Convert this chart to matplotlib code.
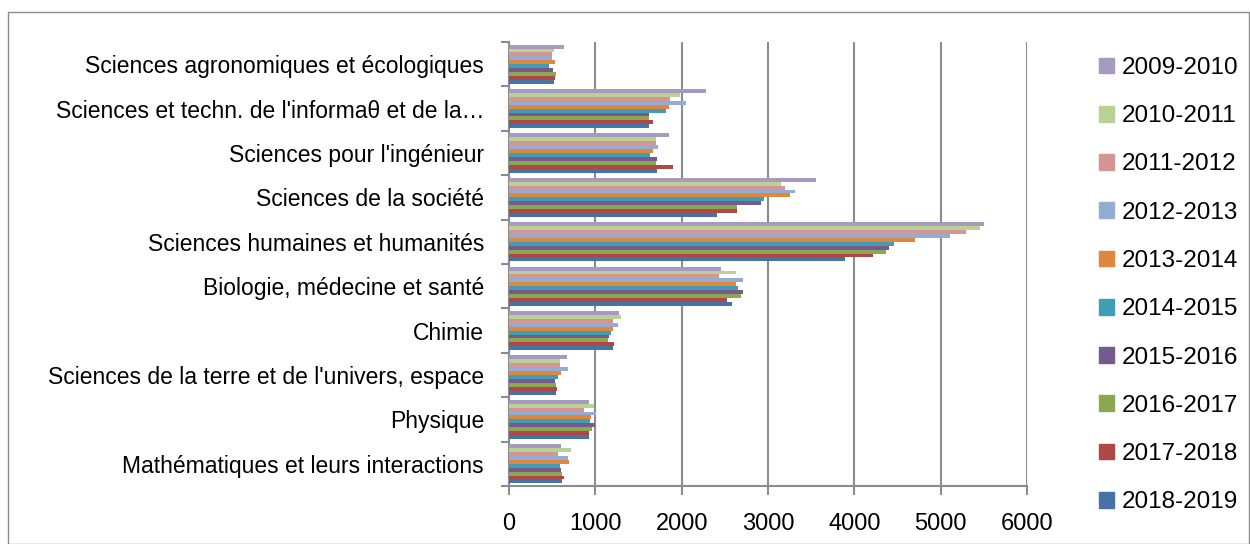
import numpy as np
import matplotlib
matplotlib.use("Agg")
import matplotlib.pyplot as plt
import matplotlib.patches as mpatches

# ---------------------------
# Data (categories listed bottom -> top)
# ---------------------------
categories = [
    "Mathématiques et leurs interactions",
    "Physique",
    "Sciences de la terre et de l'univers, espace",
    "Chimie",
    "Biologie, médecine et santé",
    "Sciences humaines et humanités",
    "Sciences de la société",
    "Sciences pour l'ingénieur",
    "Sciences et techn. de l'informaθ et de la…",
    "Sciences agronomiques et écologiques",
]

years = ["2009-2010", "2010-2011", "2011-2012", "2012-2013", "2013-2014",
         "2014-2015", "2015-2016", "2016-2017", "2017-2018", "2018-2019"]

v_2009 = [606, 927, 672, 1274, 2459, 5498, 3556, 1853, 2286, 637]
v_2010 = [722, 981, 591, 1301, 2629, 5456, 3154, 1699, 1977, 521]
v_2011 = [571, 873, 587, 1205, 2436, 5297, 3201, 1707, 1865, 502]
v_2012 = [687, 1004, 680, 1266, 2707, 5108, 3317, 1726, 2054, 494]
v_2013 = [699, 954, 606, 1208, 2629, 4707, 3255, 1672, 1849, 533]
v_2014 = [595, 934, 568, 1178, 2653, 4456, 2954, 1637, 1822, 467]
v_2015 = [606, 992, 529, 1162, 2707, 4398, 2923, 1718, 1625, 514]
v_2016 = [614, 965, 548, 1147, 2683, 4371, 2641, 1707, 1625, 544]
v_2017 = [641, 927, 556, 1216, 2521, 4220, 2645, 1903, 1668, 533]
v_2018 = [618, 923, 541, 1208, 2583, 3896, 2405, 1710, 1618, 521]

series = [v_2009, v_2010, v_2011, v_2012, v_2013,
          v_2014, v_2015, v_2016, v_2017, v_2018]

colors = ["#A79AC1", "#BAD196", "#D49593", "#94ACD4", "#DF873D",
          "#419DB4", "#765A8F", "#8CA750", "#AF4845", "#4672A6"]

xticks = [0, 1000, 2000, 3000, 4000, 5000, 6000]

# ---------------------------
# Figure
# ---------------------------
plt.rcParams["font.family"] = ["Liberation Sans", "DejaVu Sans"]
W, H = 1250, 544
fig = plt.figure(figsize=(W / 100, H / 100), dpi=100)

# chart border
fig.add_artist(mpatches.Rectangle((8 / W, 0), (W - 9) / W, (H - 12) / H,
                                  transform=fig.transFigure, fill=False,
                                  edgecolor="#8C8C8C", linewidth=1))

ax = fig.add_axes([509 / W, (H - 486) / H, (1027 - 509) / W, (486 - 42) / H])

grid_c = "#8C8C8C"
n = len(series)
pitch = 0.088
y = np.arange(len(categories))
for i, (vals, col, lab) in enumerate(zip(series, colors, years)):
    off = (n / 2 - 0.5 - i) * pitch
    ax.barh(y + off, vals, height=pitch, color=col, label=lab, zorder=3)

ax.set_xlim(0, 6000)
ax.set_ylim(-0.5, len(categories) - 0.5)
ax.set_xticks(xticks)
ax.set_xticklabels([str(t) for t in xticks], fontsize=17)
ax.set_yticks(y)
ax.set_yticklabels(categories, fontsize=16.5)
ax.set_yticks(np.arange(len(categories) + 1) - 0.5, minor=True)

ax.tick_params(axis="y", which="major", length=0, pad=18)
ax.tick_params(axis="y", which="minor", length=6, width=1.5, color=grid_c)
ax.tick_params(axis="x", length=6.5, width=1.5, color=grid_c, pad=13)

ax.grid(axis="x", color=grid_c, linewidth=1.5, zorder=0)
for s in ["top", "right"]:
    ax.spines[s].set_visible(False)
for s in ["left", "bottom"]:
    ax.spines[s].set_color(grid_c)
    ax.spines[s].set_linewidth(1.5)

handles = [mpatches.Patch(color=c, label=l) for c, l in zip(colors, years)]
fig.legend(handles=handles, loc="upper left", bbox_to_anchor=(1099 / W, 1 - 57 / H),
           frameon=False, fontsize=17.5, handlelength=0.62, handleheight=0.62,
           handletextpad=0.3, labelspacing=1.08, borderpad=0, borderaxespad=0)

fig.savefig("out.png", dpi=100)
